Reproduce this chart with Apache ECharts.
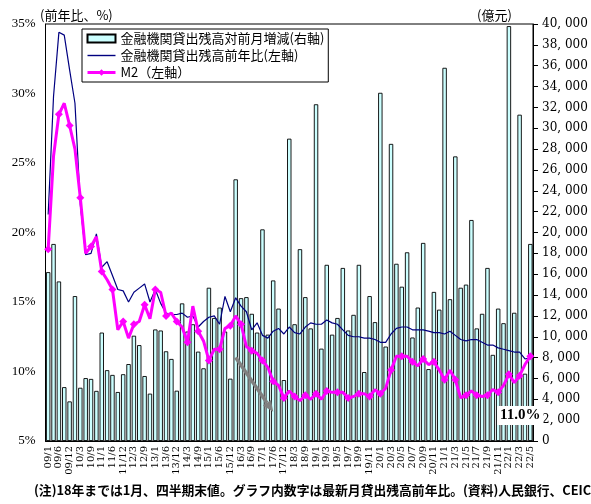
<!DOCTYPE html>
<html><head><meta charset="utf-8">
<script src="https://cdn.jsdelivr.net/npm/echarts@6/dist/echarts.min.js"></script>
<style>html,body{margin:0;padding:0;background:#fff}#c{width:591px;height:504px}</style>
</head><body><div id="c"></div>
<script>
// Categories: through 2018 January + quarter-end, from 2019 monthly
const categories = [
 '09/1','09/3','09/6','09/9','09/12',
 '10/1','10/3','10/6','10/9','10/12',
 '11/1','11/3','11/6','11/9','11/12',
 '12/1','12/3','12/6','12/9','12/12',
 '13/1','13/3','13/6','13/9','13/12',
 '14/1','14/3','14/6','14/9','14/12',
 '15/1','15/3','15/6','15/9','15/12',
 '16/1','16/3','16/6','16/9','16/12',
 '17/1','17/3','17/6','17/9','17/12',
 '18/1','18/3','18/6','18/9','18/12',
 '19/1','19/2','19/3','19/4','19/5','19/6','19/7','19/8','19/9','19/10','19/11','19/12',
 '20/1','20/2','20/3','20/4','20/5','20/6','20/7','20/8','20/9','20/10','20/11','20/12',
 '21/1','21/2','21/3','21/4','21/5','21/6','21/7','21/8','21/9','21/10','21/11','21/12',
 '22/1','22/2','22/3','22/4','22/5'
];
// 金融機関貸出残高対前月増減 (億元, right axis)
const loanChange = [
 16200,18900,15304,5167,3798,
 13900,5107,6034,5955,4807,
 10400,6794,6339,4700,6405,
 7381,10100,9198,6232,4543,
 10700,10600,8605,7870,4825,
 13200,10500,11200,8572,6973,
 14700,11800,12800,10500,5978,
 25100,13700,13800,12200,10400,
 20300,10200,15400,12700,5844,
 29000,11200,18400,13800,10800,
 32300,8858,16900,10200,11800,16600,10600,12100,16900,6613,13900,11400,
 33400,9057,28500,17000,14800,18100,9927,12800,19000,6898,14300,12600,
 35800,13600,27300,14700,15000,21200,10800,12200,16600,8262,12700,11300,
 39800,12300,31300,6454,18900
];
// 金融機関貸出残高前年比 (%, left axis)
const loanYoY = [
 21.3,29.8,34.4,34.2,31.7,
 29.3,22.0,18.4,18.5,19.9,
 17.5,17.9,16.9,15.9,15.8,
 15.0,15.7,16.0,16.3,15.0,
 15.9,14.9,14.2,14.1,14.1,
 14.2,13.9,14.0,13.2,13.6,
 13.9,14.0,13.4,15.4,14.3,
 15.3,14.7,14.3,13.0,13.5,
 12.6,12.4,12.9,13.1,12.7,
 13.2,12.8,12.7,13.2,13.5,
 13.4,13.4,13.7,13.5,13.4,13.0,12.6,12.5,12.5,12.4,12.4,12.3,
 12.1,12.1,12.7,13.1,13.2,13.2,13.0,13.0,13.0,12.9,12.8,12.8,
 12.7,12.9,12.6,12.3,12.2,12.3,12.3,12.1,11.9,11.9,11.7,11.6,
 11.5,11.4,11.4,10.9,11.0
];
// M2 (%, left axis)
const m2YoY = [
 18.8,25.5,28.5,29.3,27.7,
 26.0,22.5,18.5,19.0,19.7,
 17.2,16.6,15.9,13.0,13.6,
 12.4,13.4,13.6,14.8,13.8,
 15.9,15.7,14.0,14.2,13.6,
 13.2,12.1,14.7,12.9,12.2,
 10.8,11.6,11.6,13.1,13.3,
 14.0,13.4,11.8,11.5,11.3,
 10.8,10.3,9.3,9.0,8.1,
 8.6,8.2,7.9,8.3,8.0,
 8.4,8.0,8.6,8.5,8.5,8.5,8.1,8.2,8.4,8.4,8.2,8.7,
 8.4,8.8,10.1,11.1,11.1,11.1,10.7,10.4,10.9,10.5,10.7,10.1,
 9.4,10.1,9.4,8.1,8.3,8.6,8.3,8.2,8.3,8.7,8.5,9.0,
 9.8,9.2,9.7,10.5,11.1
];
const seriesNames = ['金融機関貸出残高対前月増減(右軸)','金融機関貸出残高前年比(左軸)','M2（左軸）'];
const leftAxis = {min:5, max:35, interval:5};
const rightAxis = {min:0, max:40000, interval:2000};
// gray arrow annotation (category, % value on left axis)
const arrowFrom = ['16/1', 11.0];
const arrowTo = ['17/6', 7.1];

const chart = echarts.init(document.getElementById('c'), null, {renderer:'canvas'});
const serifNum = 'Liberation Serif';
const jp = 'Noto Sans CJK JP';
const lastIdx = loanYoY.length - 1;
chart.setOption({
  animation:false,
  backgroundColor:'#fff',
  grid:{left:45.5, right:58, top:24, bottom:63, show:true, borderColor:'#000', borderWidth:1, backgroundColor:'transparent'},
  legend:{
    data:[
      {name:seriesNames[0], icon:'rect'},
      {name:seriesNames[1], icon:'path://M0,0 L28,0 L28,1.4 L0,1.4 Z', itemStyle:{color:'#000080', borderWidth:0}},
      {name:seriesNames[2], lineStyle:{width:3, color:'#FF00FF'}}
    ],
    orient:'vertical', left:82, top:29, padding:[3,4,3,4], itemGap:4,
    itemWidth:28, itemHeight:8, borderColor:'#000', borderWidth:1, borderRadius:0,
    backgroundColor:'#fff', selectedMode:false,
    textStyle:{fontFamily:jp, fontSize:13, color:'#000', lineHeight:13}
  },
  xAxis:{
    type:'category', data:categories, boundaryGap:true,
    axisLine:{show:true, lineStyle:{color:'#000', width:1}},
    axisTick:{show:false},
    axisLabel:{interval:1, rotate:90, fontFamily:'DejaVu Serif', fontSize:10, color:'#000', margin:5},
    splitLine:{show:false}
  },
  yAxis:[
    {type:'value', position:'left', min:leftAxis.min, max:leftAxis.max, interval:leftAxis.interval,
     axisLine:{show:true, lineStyle:{color:'#000'}}, axisTick:{show:false},
     axisLabel:{formatter:'{value}%', fontFamily:serifNum, fontSize:13, color:'#000', margin:10},
     splitLine:{show:false}},
    {type:'value', position:'right', min:rightAxis.min, max:rightAxis.max, interval:rightAxis.interval,
     axisLine:{show:true, lineStyle:{color:'#000'}},
     axisTick:{show:true, inside:false, length:5, lineStyle:{color:'#000'}},
     axisLabel:{formatter:function(v){ if(v===0) return '0'; const s=String(v); return s.slice(0,s.length-3)+', '+s.slice(-3); },
       fontFamily:'DejaVu Serif', fontSize:12, color:'#000', margin:9},
     splitLine:{show:false}}
  ],
  series:[
    {name:seriesNames[0], type:'bar', yAxisIndex:1, data:loanChange, barWidth:4.4,
     itemStyle:{color:'#CCFFFF', borderColor:'#000', borderWidth:0.9}, z:1},
    {name:seriesNames[1], type:'line', yAxisIndex:0, data:loanYoY, symbol:'none',
     lineStyle:{color:'#000080', width:1.2}, itemStyle:{color:'#000080'}, z:3,
     markPoint:{symbol:'rect', symbolSize:0, silent:true,
       data:[{coord:[categories[lastIdx], loanYoY[lastIdx]]}],
       label:{show:true, formatter:loanYoY[lastIdx].toFixed(1)+'%', offset:[-10,58],
         fontFamily:serifNum, fontWeight:'bold', fontSize:15, color:'#000',
         backgroundColor:'#fff', padding:[2,3]}}},
    {name:seriesNames[2], type:'line', yAxisIndex:0, data:m2YoY, symbol:'diamond', symbolSize:8,
     lineStyle:{color:'#FF00FF', width:3}, itemStyle:{color:'#FF00FF'}, z:4}
  ],
  graphic:[
    {id:'tl', type:'text', left:40, top:9, style:{text:'(前年比、%)', font:'13px "Noto Sans CJK JP"', fill:'#000'}},
    {id:'tr', type:'text', left:477, top:9, style:{text:'(億元)', font:'13px "Noto Sans CJK JP"', fill:'#000'}},
    {id:'fn', type:'text', left:34, top:484, style:{text:'(注)18年までは1月、四半期末値。グラフ内数字は最新月貸出残高前年比。(資料)人民銀行、CEIC', font:'bold 12.8px "Noto Sans CJK JP"', fill:'#000'}}
  ]
});
// arrow annotation positioned through the chart's own axes
const finder = {xAxisIndex:0, yAxisIndex:0};
const p0 = chart.convertToPixel(finder, arrowFrom);
const p1 = chart.convertToPixel(finder, arrowTo);
const dx = p1[0]-p0[0], dy = p1[1]-p0[1], L = Math.sqrt(dx*dx+dy*dy);
const ux = dx/L, uy = dy/L, head = 11, hw = 5;
const bx = p1[0]-ux*head, by = p1[1]-uy*head;
chart.setOption({graphic:[
  {id:'arrowLine', type:'line', z:100, silent:true, shape:{x1:p0[0], y1:p0[1], x2:bx, y2:by}, style:{stroke:'#808080', lineWidth:3.5}},
  {id:'arrowHead', type:'polygon', z:100, silent:true, shape:{points:[[p1[0],p1[1]],[bx-uy*hw, by+ux*hw],[bx+uy*hw, by-ux*hw]]}, style:{fill:'#808080'}}
]});
</script></body></html>
